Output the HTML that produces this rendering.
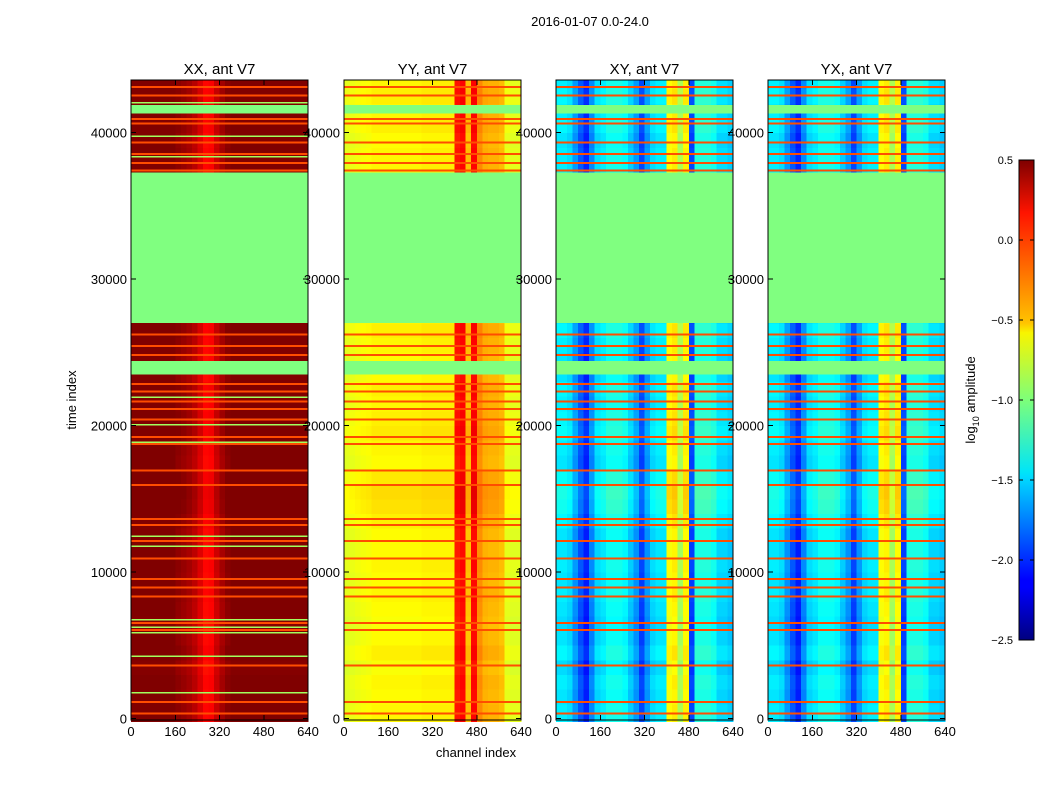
<!DOCTYPE html>
<html><head><meta charset="utf-8">
<style>
body{margin:0;background:#fff;width:1050px;height:800px;overflow:hidden;font-family:"Liberation Sans",sans-serif}
svg text{font-family:"Liberation Sans",sans-serif}
</style></head>
<body>
<svg id="chart" width="1050" height="800" xmlns="http://www.w3.org/2000/svg" shape-rendering="crispEdges">
<defs>
<linearGradient id="jet" x1="0" y1="1" x2="0" y2="0">
<stop offset="0" stop-color="#00007f"/><stop offset="0.11" stop-color="#0000ff"/><stop offset="0.125" stop-color="#0000ff"/>
<stop offset="0.34" stop-color="#00dbff"/><stop offset="0.35" stop-color="#00e5f8"/><stop offset="0.5" stop-color="#7dff7a"/>
<stop offset="0.64" stop-color="#f8f500"/><stop offset="0.66" stop-color="#ffc400"/><stop offset="0.89" stop-color="#ff1400"/>
<stop offset="1" stop-color="#7f0000"/>
</linearGradient>
</defs>
<text x="590" y="26" font-size="13" text-anchor="middle">2016-01-07 0.0-24.0</text>
<g id="panels"></g>
<text transform="translate(76,400) rotate(-90)" font-size="13" text-anchor="middle">time index</text>
<text x="476" y="757" font-size="13" text-anchor="middle">channel index</text>
<g>
<rect x="1019" y="160" width="15" height="480" fill="url(#jet)" stroke="#000" stroke-width="1"/>
<g id="cbticks"></g>
<text transform="translate(975,400) rotate(-90)" font-size="13" text-anchor="middle">log<tspan font-size="9" dy="4">10</tspan><tspan dy="-4"> amplitude</tspan></text>
</g>
</svg>
<script>
// ---- data ----
const panelTitles = ["XX, ant V7","YY, ant V7","XY, ant V7","YX, ant V7"];
const xTicks = [0,160,320,480,640];
const yTicks = [0,10000,20000,30000,40000];
const cbTicks = [0.5,0.0,-0.5,-1.0,-1.5,-2.0,-2.5];
const profileXX = [0.5,0.5,0.5,0.5,0.5,0.5,0.5,0.5,0.45,0.42,0.38,0.32,0.22,0.1,0.12,0.27,0.38,0.46,0.5,0.5,0.5,0.5,0.5,0.5,0.5,0.5,0.5,0.5,0.5,0.5,0.5,0.5];
const profileYY = [-0.72,-0.7,-0.68,-0.66,-0.65,-0.62,-0.62,-0.62,-0.62,-0.62,-0.62,-0.62,-0.62,-0.62,-0.6,-0.6,-0.6,-0.6,-0.6,-0.6,0.05,0.1,-0.45,0.1,-0.3,-0.4,-0.42,-0.42,-0.45,-0.7,-0.72,-0.72];
const profileXY = [-1.45,-1.45,-1.5,-1.7,-1.9,-2.05,-1.75,-1.5,-1.45,-1.35,-1.35,-1.35,-1.4,-1.55,-1.7,-1.95,-1.7,-1.5,-1.45,-1.45,-0.65,-0.6,-0.9,-0.62,-1.95,-1.3,-1.3,-1.3,-1.35,-1.5,-1.5,-1.55];
const profileYX = [-1.45,-1.45,-1.5,-1.7,-1.9,-2.05,-1.75,-1.5,-1.45,-1.35,-1.35,-1.35,-1.4,-1.55,-1.7,-1.95,-1.7,-1.5,-1.45,-1.45,-0.65,-0.6,-0.9,-0.62,-1.95,-1.3,-1.3,-1.3,-1.35,-1.5,-1.5,-1.55];
const rowOffsets = [0.05,0,0.05,-0.05,0.1,0,-0.05,0,0.05,0,0.05,0,0,0.1,0.2,0.25,0.15,0,0.05,0.15,0.1,0.05,0.1,0,0,0.05,0.1,0,0,0,0,0,0,0,0,0,0,0.05,0.05,0,0.1,0.05,0.1,0.05];
const flagBands = [[41300,41900],[27000,37300],[23500,24400]];
const redLines = [43200,42600,41000,40700,39400,38600,38000,37500,26300,25500,24900,22900,22400,21700,21200,20500,19300,18800,17000,16000,13700,13300,12200,11000,9600,9000,8400,6600,6100,3700,1200,400];
const greenLinesXX = [42100,39800,38400,22000,20100,18900,12500,11800,6800,6300,5900,4300,1800];
const profiles = [profileXX,profileYY,profileXY,profileYX];
const panelFrames = [131,344,556,768];
// ---- scales ----
const plotTop=80, plotBot=720, plotW=177, tMin=-100, tMax=43600, chMax=640;
const yS = t => plotBot - (t - tMin)/(tMax - tMin)*(plotBot-plotTop);
const xS = (x0,c) => x0 + c/chMax*plotW;
function jet(v){
  let n=(v+2.5)/3; n=Math.max(0,Math.min(1,n));
  const f=x=>Math.max(0,Math.min(1,x));
  const r=f(Math.min(4*n-1.5,-4*n+4.5)), g=f(Math.min(4*n-0.5,-4*n+3.5)), b=f(Math.min(4*n+0.5,-4*n+2.5));
  return `rgb(${Math.round(r*255)},${Math.round(g*255)},${Math.round(b*255)})`;
}
const NS="http://www.w3.org/2000/svg";
function mk(tag,attrs,parent){const e=document.createElementNS(NS,tag);for(const k in attrs)e.setAttribute(k,attrs[k]);parent.appendChild(e);return e;}
const root=document.getElementById('panels');
const factors=[0.3,0.4,0.6,0.6];
panelFrames.forEach((x0,p)=>{
  const g=mk('g',{},root);
  
  
  const prof=profiles[p];
  const bw=chMax/prof.length;
  rowOffsets.forEach((off,r)=>{
    const t0=r*1000-(r===0?200:0), t1=Math.min((r+1)*1000,tMax);
    const y1=yS(t0), y2=yS(t1);
    prof.forEach((v,c)=>{
      const rc=mk('rect',{x:xS(x0,c*bw).toFixed(2),y:y2.toFixed(2),width:(plotW/prof.length+0.4).toFixed(2),height:(y1-y2+0.4).toFixed(2),fill:jet(v+off*factors[p])},g);
      
      
    });
  });
  flagBands.forEach(b=>{
    const rc=mk('rect',{x:x0,y:yS(b[1]),width:plotW,height:yS(b[0])-yS(b[1]),fill:jet(-1.0)},g);
    
    
  });
  if(p===0){greenLinesXX.forEach(t=>{
    const rc=mk('rect',{x:x0,y:yS(t),width:plotW,height:1.5,fill:jet(-0.9)},g);
    
    
  });}
  redLines.forEach(t=>{
    const rc=mk('rect',{x:x0,y:yS(t),width:plotW,height:2,fill:jet(-0.1)},g);
    
    
  });
  const fr=mk('rect',{x:x0,y:plotTop,width:plotW,height:plotBot-plotTop,fill:'none',stroke:'#000','stroke-width':1},g);
  
  
  const tt=mk('text',{x:x0+plotW/2,y:74,'font-size':15,'text-anchor':'middle'},g);
  tt.textContent=panelTitles[p];
  
  
  xTicks.forEach(c=>{
    const x=xS(x0,c);
    mk('line',{x1:x,x2:x,y1:plotBot,y2:plotBot-5,stroke:'#000'},g);
    mk('line',{x1:x,x2:x,y1:plotTop,y2:plotTop+5,stroke:'#000'},g);
    const tl=mk('text',{x:x,y:plotBot+16,'font-size':13,'text-anchor':'middle'},g);
    tl.textContent=c;
    
    
  });
  yTicks.forEach(t=>{
    const y=yS(t);
    mk('line',{x1:x0,x2:x0+5,y1:y,y2:y,stroke:'#000'},g);
    mk('line',{x1:x0+plotW,x2:x0+plotW-5,y1:y,y2:y,stroke:'#000'},g);
    const tl=mk('text',{x:x0-4,y:y+5,'font-size':13,'text-anchor':'end'},g);
    tl.textContent=t;
    
    
  });
});
const cb=document.getElementById('cbticks');
cbTicks.forEach(v=>{
  const y=160+(0.5-v)/3*480;
  mk('line',{x1:1034,x2:1030,y1:y,y2:y,stroke:'#000'},cb);
  mk('line',{x1:1019,x2:1023,y1:y,y2:y,stroke:'#000'},cb);
  const tl=mk('text',{x:1013,y:y+4,'font-size':11,'text-anchor':'end'},cb);
  tl.textContent=(v<0?'\u2212':'')+Math.abs(v).toFixed(1);
  
  
});
</script>
</body></html>
